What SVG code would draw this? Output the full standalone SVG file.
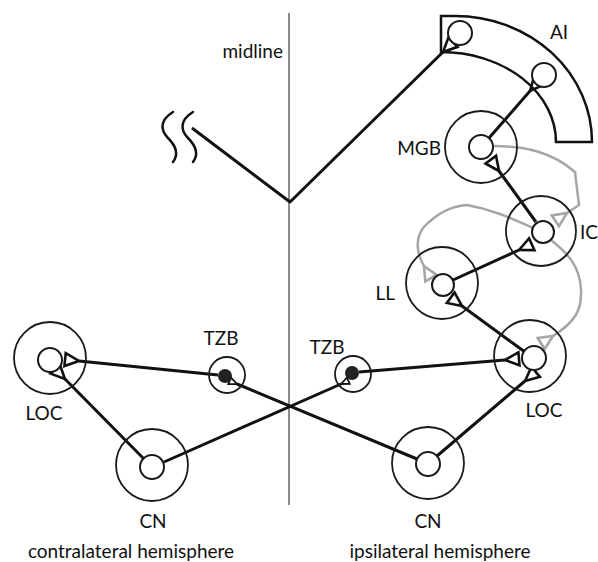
<svg xmlns="http://www.w3.org/2000/svg" width="598" height="562" viewBox="0 0 598 562">
<style>
.lbl{font-family:Lato,"Open Sans","Liberation Sans",sans-serif;font-size:19px;fill:#111}
.outer{fill:none;stroke:#1a1a1a;stroke-width:1.8}
.inner{fill:#fff;stroke:#1a1a1a;stroke-width:2}
.con{fill:none;stroke:#111;stroke-width:3;stroke-linejoin:round}
.gray{fill:none;stroke:#a6a6a6;stroke-width:2.5;stroke-linejoin:round}
</style>
<defs>
<marker id="syn" markerUnits="userSpaceOnUse" markerWidth="20" markerHeight="20" refX="1" refY="7.5" orient="auto" overflow="visible">
<polygon points="1,7.5 15,1 15,14" fill="#fff" stroke="#111" stroke-width="2.6" stroke-linejoin="miter"/>
</marker>
<marker id="synS" markerUnits="userSpaceOnUse" markerWidth="14" markerHeight="14" refX="1" refY="4.5" orient="auto" overflow="visible">
<polygon points="1,4.5 9,1 9,8" fill="#fff" stroke="#111" stroke-width="1.8"/>
</marker>
<marker id="synG" markerUnits="userSpaceOnUse" markerWidth="20" markerHeight="20" refX="1" refY="7.5" orient="auto" overflow="visible">
<polygon points="1,7.5 15,1 15,14" fill="#fff" stroke="#a6a6a6" stroke-width="2.6"/>
</marker>
</defs>
<rect width="598" height="562" fill="#fff"/>

<g id="midline">
<line x1="289" y1="13" x2="289" y2="505" stroke="#8c8c8c" stroke-width="2"/>
<text class="lbl" x="283" y="58" text-anchor="end">midline</text>
</g>

<g id="squiggle" fill="none" stroke="#111" stroke-width="2.5" stroke-linecap="round">
<path d="M173,112 C160,120 160,130 168,138 C176,146 179,154 173,162"/>
<path d="M193,112 C180,120 180,130 188,138 C196,146 199,154 193,162"/>
</g>

<g id="connectors">
<path class="con" d="M192,128 L290,202 L443,52" marker-end="url(#syn)"/>
<line class="con" x1="489" y1="138" x2="530" y2="91" marker-end="url(#syn)"/>
<line class="con" x1="536" y1="222" x2="499" y2="171" marker-end="url(#syn)"/>
<line class="con" x1="453" y1="280" x2="519" y2="250" marker-end="url(#syn)"/>
<line class="con" x1="525" y1="352" x2="462" y2="306" marker-end="url(#syn)"/>
<line class="con" x1="359" y1="372" x2="505" y2="360" marker-end="url(#syn)"/>
<line class="con" x1="437" y1="456" x2="525" y2="381" marker-end="url(#syn)"/>
<line class="con" x1="218" y1="375" x2="79" y2="361" marker-end="url(#syn)"/>
<line class="con" x1="144" y1="459" x2="65" y2="379" marker-end="url(#syn)"/>
<line class="con" x1="164" y1="462" x2="341" y2="384" marker-end="url(#synS)"/>
<line class="con" x1="417" y1="459" x2="237" y2="384" marker-end="url(#synS)"/>
<path class="gray" d="M493,146 C525,146 552,152 575,172 L579,205 L567,213" marker-end="url(#synG)"/>
<path class="gray" d="M533,228 C515,220 495,210 467,205 C450,206 436,214 423,228 C415,240 416,252 424,266" marker-end="url(#synG)"/>
<path class="gray" d="M551,240 C570,255 580,268 581,290 C582,310 575,322 553,336" marker-end="url(#synG)"/>
</g>

<g id="AI">
<path d="M441,16 L455,16 A137,126 0 0 1 592,142 L556,142 A115,90 0 0 0 441,52 Z" fill="none" stroke="#111" stroke-width="2.5"/>
<circle class="inner" cx="460" cy="33" r="12"/>
<circle class="inner" cx="544" cy="75" r="12"/>
<text class="lbl" x="559" y="39" text-anchor="middle">AI</text>
</g>

<g id="MGB">
<circle class="outer" cx="481" cy="147" r="36"/>
<circle class="inner" cx="481" cy="147" r="12"/>
<text class="lbl" x="441" y="155" text-anchor="end">MGB</text>
</g>

<g id="IC">
<circle class="outer" cx="541" cy="231" r="35"/>
<circle class="inner" cx="543" cy="232" r="11"/>
<text class="lbl" x="580" y="239">IC</text>
</g>

<g id="LL">
<circle class="outer" cx="442" cy="283" r="36"/>
<circle class="inner" cx="443" cy="285" r="11"/>
<text class="lbl" x="395" y="300" text-anchor="end">LL</text>
</g>

<g id="LOC-ipsi">
<circle class="outer" cx="530" cy="356" r="36"/>
<circle class="inner" cx="534" cy="358" r="12"/>
<text class="lbl" x="544" y="417" text-anchor="middle">LOC</text>
</g>

<g id="TZB-ipsi">
<circle class="outer" cx="353" cy="374" r="18"/>
<circle cx="352" cy="373" r="7" fill="#222"/>
<text class="lbl" x="327" y="354" text-anchor="middle">TZB</text>
</g>

<g id="CN-ipsi">
<circle class="outer" cx="428" cy="463" r="36"/>
<circle class="inner" cx="428" cy="464" r="12"/>
<text class="lbl" x="428" y="528" text-anchor="middle">CN</text>
</g>

<g id="LOC-contra">
<circle class="outer" cx="50" cy="358" r="36"/>
<circle class="inner" cx="50" cy="360" r="12"/>
<text class="lbl" x="44" y="420" text-anchor="middle">LOC</text>
</g>

<g id="TZB-contra">
<circle class="outer" cx="227" cy="375" r="18"/>
<circle cx="225" cy="376" r="7" fill="#222"/>
<text class="lbl" x="221" y="345" text-anchor="middle">TZB</text>
</g>

<g id="CN-contra">
<circle class="outer" cx="152" cy="465" r="36"/>
<circle class="inner" cx="152" cy="467" r="12"/>
<text class="lbl" x="153" y="528" text-anchor="middle">CN</text>
</g>

<g id="hemispheres">
<text class="lbl" x="131" y="558" text-anchor="middle">contralateral hemisphere</text>
<text class="lbl" x="440" y="558" text-anchor="middle">ipsilateral hemisphere</text>
</g>
</svg>
